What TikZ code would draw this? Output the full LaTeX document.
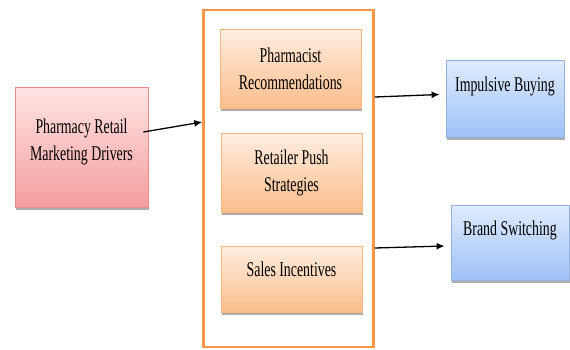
\documentclass[tikz,border=0pt]{standalone}
\usepackage{fontspec}
\newfontfamily\drvfont[FakeStretch=0.66]{Liberation Serif}
\usepackage{tikz}
\usetikzlibrary{arrows.meta,shadows}
\definecolor{pinkTop}{RGB}{255,228,228}
\definecolor{pinkBot}{RGB}{244,158,158}
\definecolor{pinkLine}{RGB}{232,140,140}
\definecolor{orgTop}{RGB}{255,237,224}
\definecolor{orgBot}{RGB}{250,190,140}
\definecolor{orgLine}{RGB}{250,182,125}
\definecolor{bluTop}{RGB}{224,236,255}
\definecolor{bluBot}{RGB}{158,193,245}
\definecolor{bluLine}{RGB}{150,176,222}
\definecolor{frameOrange}{RGB}{247,150,70}

\begin{document}
\begin{tikzpicture}[x=1pt, y=-1pt,
    every node/.style={font=\drvfont\fontsize{21}{27}\selectfont, align=center, inner sep=0pt},
    boxshadow/.style={drop shadow={shadow xshift=1pt, shadow yshift=-3pt, fill=black!45, opacity=0.7}},
    drvbox/.style={draw=pinkLine, line width=0.8pt, top color=pinkTop, bottom color=pinkBot, boxshadow},
    factorbox/.style={draw=orgLine, line width=0.8pt, top color=orgTop, bottom color=orgBot, boxshadow,
      minimum width=141pt},
    outcomebox/.style={draw=bluLine, line width=0.8pt, top color=bluTop, bottom color=bluBot, boxshadow,
      minimum width=118pt, text depth=28pt},
    groupbox/.style={draw=frameOrange, line width=2.5pt, fill=white},
    link/.style={-{Latex[length=8pt,width=7pt]}, line width=1.3pt, black}]
  \useasboundingbox (0,0) rectangle (570,349);
  % driver on the left, group of factors in the middle, outcomes on the right
  \node[drvbox, minimum width=133pt, minimum height=120pt, text depth=15pt] (drivers) at (81.5,147)
    {Pharmacy Retail\\Marketing Drivers};
  \node[groupbox, minimum width=170pt, minimum height=337pt] (container) at (288.5,178.5) {};
  \node[factorbox, minimum height=79pt] (pharmacist) at (290.5,68.5) {Pharmacist\\Recommendations};
  \node[factorbox, minimum height=79pt] (pushstrat) at (291.5,172.5) {Retailer Push\\Strategies};
  \node[factorbox, minimum height=66pt, text depth=20pt] (incentives) at (291.5,279) {Sales Incentives};
  \node[outcomebox, minimum height=77pt] (impulse) at (505,98.5) {Impulsive Buying};
  \node[outcomebox, minimum height=75pt] (switching) at (510,242.5) {Brand Switching};
  % arrows
  \draw[link] ([xshift=-5pt,yshift=15pt]drivers.east) -- ([yshift=56.5pt]container.west);
  \draw[link] ([yshift=81.5pt]container.east) -- ([xshift=-6pt,yshift=4pt]impulse.west);
  \draw[link] ([yshift=-69.5pt]container.east) -- ([xshift=-6pt,yshift=-3.5pt]switching.west);
\end{tikzpicture}
\end{document}
